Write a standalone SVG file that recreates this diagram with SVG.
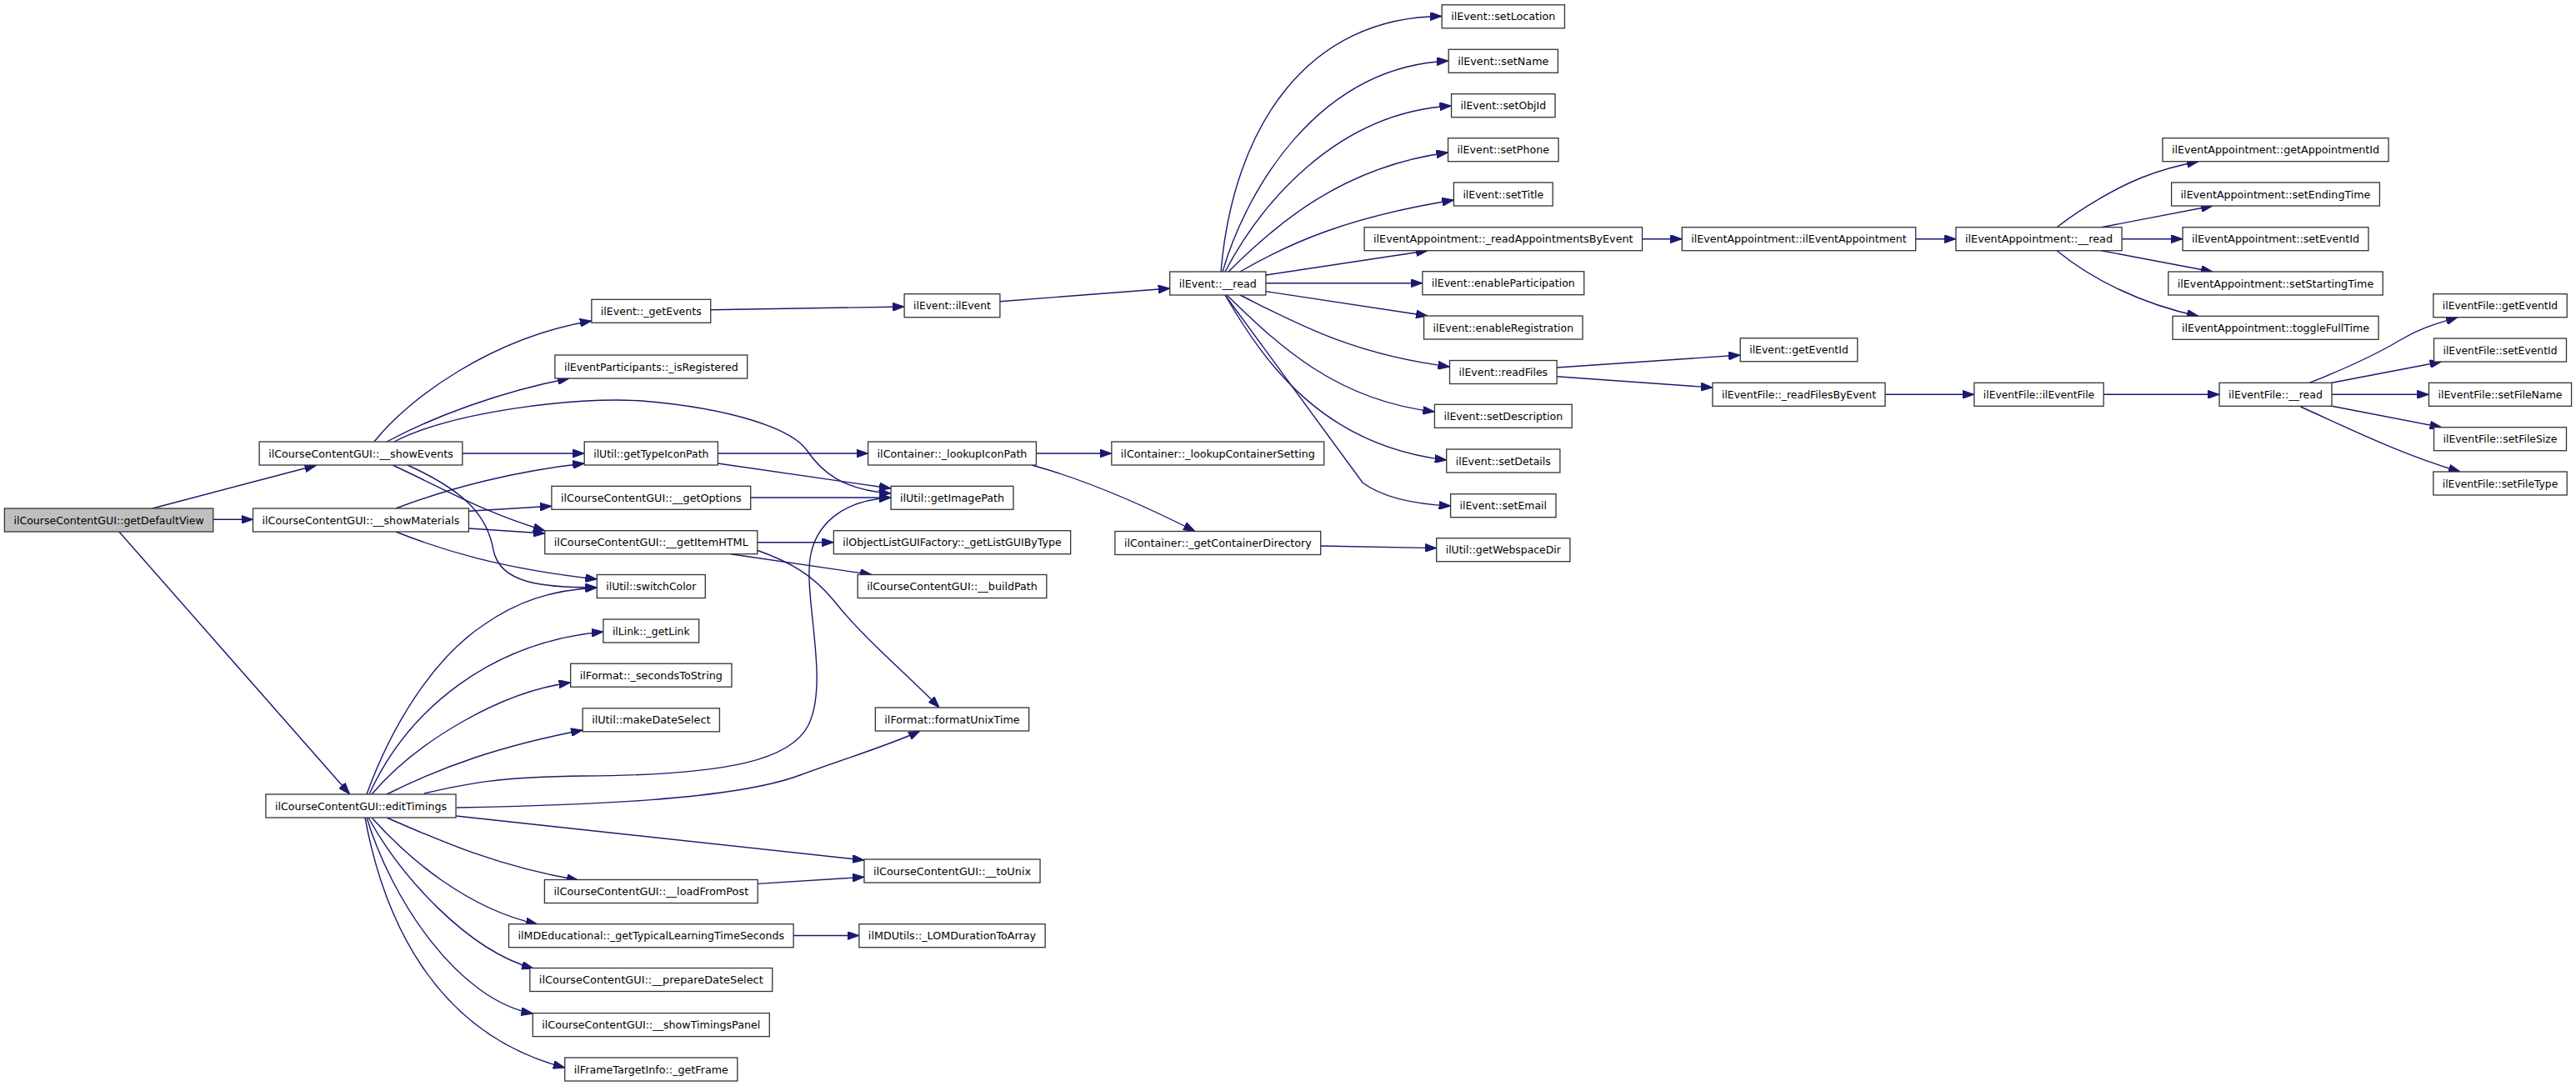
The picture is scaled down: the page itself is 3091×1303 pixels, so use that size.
<svg xmlns="http://www.w3.org/2000/svg" width="3091" height="1303" viewBox="0 0 3091 1303">
<defs>
<style>
.n rect{fill:#fff;stroke:#333;stroke-width:1.3}
.n text{font-family:"DejaVu Sans","Liberation Sans",sans-serif;font-size:12.4px;text-anchor:middle;fill:#000}
.root rect{fill:#bfbfbf}
.e path{fill:none;stroke:#191970;stroke-width:1.4;marker-end:url(#ah)}
</style>
<marker id="ah" markerUnits="userSpaceOnUse" markerWidth="14" markerHeight="10" refX="14" refY="5" orient="auto">
<path d="M0,0 L14,5 L0,10 z" fill="#191970" stroke="#191970" stroke-width="1"/>
</marker>
</defs>
<rect x="0" y="0" width="3091" height="1303" fill="#fff"/>
<g id="connectors" class="e">
<path d="M183,610 L379.5,558.3"/>
<path d="M255.8,623.3 L303.6,623.3"/>
<path d="M142.9,638 L419.6,952.8"/>
<path d="M449,530 C490,478 590,405 709.8,385"/>
<path d="M464,530 C520,500 600,470 683,454"/>
<path d="M473,530 C540,495 690,475 770,481 C880,490 950,515 968,540 C985,565 1010,588 1069,592"/>
<path d="M555,544 L701.2,544"/>
<path d="M471,558 C530,585 580,615 653.8,636.7"/>
<path d="M489,558 C560,590 585,620 592,660 C600,700 650,705 716.3,705"/>
<path d="M475,610 C540,585 620,565 701.2,556"/>
<path d="M562.5,613.3 L661.9,607.3"/>
<path d="M562.5,634 L653.8,640"/>
<path d="M475,638 C530,660 600,682 716.3,695"/>
<path d="M440,953 C470,870 520,790 580,750 C620,722 660,708 716.3,705"/>
<path d="M443,953 C490,850 590,770 723.9,758"/>
<path d="M446,953 C500,890 600,830 684.6,819"/>
<path d="M464,953 C530,920 600,895 699,876"/>
<path d="M509,952 C560,940 600,932 700,931 C880,930 950,910 970,870 C995,820 965,720 972,670 C978,630 1010,600 1069,597"/>
<path d="M548,969 C700,966 880,960 960,930 C1020,908 1070,893 1104,877"/>
<path d="M547.3,979 L1036.9,1032"/>
<path d="M464,981 C530,1010 600,1040 694,1056"/>
<path d="M446,981 C490,1030 560,1090 645,1109"/>
<path d="M442,981 C480,1050 560,1140 640,1162"/>
<path d="M440,981 C470,1080 550,1200 639.3,1216"/>
<path d="M438,981 C460,1100 520,1240 677.7,1281"/>
<path d="M909,1060.4 L1036.9,1052.3"/>
<path d="M951.6,1122.5 L1030.8,1122.5"/>
<path d="M908.8,650.7 L1000.3,650.7"/>
<path d="M876.6,664.7 L1046,689.5"/>
<path d="M908,660 C950,675 975,690 1000,720 C1040,770 1090,810 1127,849"/>
<path d="M861.4,544 L1041.6,544"/>
<path d="M861.4,556 L1069,586"/>
<path d="M900.7,597 L1069,597"/>
<path d="M852.7,371.7 L1085.1,368"/>
<path d="M1199.9,361.7 L1403.7,346"/>
<path d="M1243.4,544 L1333.8,544"/>
<path d="M1238,558 C1300,575 1360,600 1434,637.5"/>
<path d="M1584.7,655 L1723.7,657.6"/>
<path d="M1465,326 C1480,150 1570,20 1730.1,19.5"/>
<path d="M1467,326 C1495,230 1580,80 1738.2,73"/>
<path d="M1470,326 C1510,250 1600,135 1741.5,127"/>
<path d="M1474,326 C1530,270 1610,200 1737.5,183"/>
<path d="M1488,326 C1550,290 1620,260 1744.4,240"/>
<path d="M1518.9,330 L1713,300.7"/>
<path d="M1518.9,339.7 L1706.8,339.7"/>
<path d="M1518.9,349.6 L1713,379"/>
<path d="M1488,354 C1550,385 1620,425 1739.5,440"/>
<path d="M1472,354 C1530,410 1600,480 1721.4,494"/>
<path d="M1470,354 C1520,440 1590,535 1735.7,552"/>
<path d="M1470,354 L1635,579 C1660,598 1700,605 1740.6,607"/>
<path d="M1970.5,286.7 L2018.3,286.7"/>
<path d="M2298.7,286.7 L2346.9,286.7"/>
<path d="M2468,272.7 C2500,248 2540,225 2570,213 C2595,203 2615,198 2638,193.7"/>
<path d="M2521.4,272.7 L2655,247"/>
<path d="M2546,286.7 L2619,286.7"/>
<path d="M2521.4,300.7 L2655,326"/>
<path d="M2468,300.7 C2510,335 2570,365 2638,379.3"/>
<path d="M1868.1,441 L2088.2,426"/>
<path d="M1868.1,451.8 L2054.9,465"/>
<path d="M2262,473.3 L2368.8,473.3"/>
<path d="M2524.1,473.3 L2663,473.3"/>
<path d="M2771,459.3 C2820,440 2860,420 2880,408 C2905,393 2925,388 2949,380.7"/>
<path d="M2798,459.3 L2929.6,434"/>
<path d="M2798,473.3 L2914.4,473.3"/>
<path d="M2798,487.3 L2929.6,512.7"/>
<path d="M2760.5,488 C2810,510 2880,545 2952,566"/>
</g>
<g id="n_getDefaultView" class="n root"><rect x="5.4" y="610" width="250.4" height="28"/><text x="130.6" y="628.5" textLength="228.4" lengthAdjust="spacingAndGlyphs">ilCourseContentGUI::getDefaultView</text></g>
<g id="n_showEvents" class="n"><rect x="311.15" y="530" width="243.7" height="28"/><text x="433" y="548.5" textLength="221.7" lengthAdjust="spacingAndGlyphs">ilCourseContentGUI::__showEvents</text></g>
<g id="n_showMaterials" class="n"><rect x="303.55" y="610" width="258.9" height="28"/><text x="433" y="628.5" textLength="236.9" lengthAdjust="spacingAndGlyphs">ilCourseContentGUI::__showMaterials</text></g>
<g id="n_editTimings" class="n"><rect x="318.95" y="953" width="228.1" height="28"/><text x="433" y="971.5" textLength="206.1" lengthAdjust="spacingAndGlyphs">ilCourseContentGUI::editTimings</text></g>
<g id="n_getEvents" class="n"><rect x="709.85" y="359.3" width="142.9" height="28"/><text x="781.3" y="377.8" textLength="120.9" lengthAdjust="spacingAndGlyphs">ilEvent::_getEvents</text></g>
<g id="n_isRegistered" class="n"><rect x="665.9" y="426" width="230.8" height="28"/><text x="781.3" y="444.5" textLength="208.8" lengthAdjust="spacingAndGlyphs">ilEventParticipants::_isRegistered</text></g>
<g id="n_getTypeIconPath" class="n"><rect x="701.2" y="530" width="160.2" height="28"/><text x="781.3" y="548.5" textLength="138.2" lengthAdjust="spacingAndGlyphs">ilUtil::getTypeIconPath</text></g>
<g id="n_getOptions" class="n"><rect x="661.9" y="583.3" width="238.8" height="28"/><text x="781.3" y="601.8" textLength="216.8" lengthAdjust="spacingAndGlyphs">ilCourseContentGUI::__getOptions</text></g>
<g id="n_getItemHTML" class="n"><rect x="653.8" y="636.7" width="255" height="28"/><text x="781.3" y="655.2" textLength="233" lengthAdjust="spacingAndGlyphs">ilCourseContentGUI::__getItemHTML</text></g>
<g id="n_switchColor" class="n"><rect x="716.3" y="689.5" width="130" height="28"/><text x="781.3" y="708" textLength="108" lengthAdjust="spacingAndGlyphs">ilUtil::switchColor</text></g>
<g id="n_getLink" class="n"><rect x="723.9" y="743" width="114.8" height="28"/><text x="781.3" y="761.5" textLength="92.8" lengthAdjust="spacingAndGlyphs">ilLink::_getLink</text></g>
<g id="n_secondsToString" class="n"><rect x="684.65" y="796.2" width="193.3" height="28"/><text x="781.3" y="814.7" textLength="171.3" lengthAdjust="spacingAndGlyphs">ilFormat::_secondsToString</text></g>
<g id="n_makeDateSelect" class="n"><rect x="699.15" y="849.8" width="164.3" height="28"/><text x="781.3" y="868.3" textLength="142.3" lengthAdjust="spacingAndGlyphs">ilUtil::makeDateSelect</text></g>
<g id="n_loadFromPost" class="n"><rect x="653.4" y="1055.5" width="255.8" height="28"/><text x="781.3" y="1074" textLength="233.8" lengthAdjust="spacingAndGlyphs">ilCourseContentGUI::__loadFromPost</text></g>
<g id="n_getTypicalLearningTimeSeconds" class="n"><rect x="610.5" y="1108.7" width="341.6" height="28"/><text x="781.3" y="1127.2" textLength="319.6" lengthAdjust="spacingAndGlyphs">ilMDEducational::_getTypicalLearningTimeSeconds</text></g>
<g id="n_prepareDateSelect" class="n"><rect x="635.85" y="1161.5" width="290.9" height="28"/><text x="781.3" y="1180" textLength="268.9" lengthAdjust="spacingAndGlyphs">ilCourseContentGUI::__prepareDateSelect</text></g>
<g id="n_showTimingsPanel" class="n"><rect x="639.3" y="1215.6" width="284" height="28"/><text x="781.3" y="1234.1" textLength="262" lengthAdjust="spacingAndGlyphs">ilCourseContentGUI::__showTimingsPanel</text></g>
<g id="n_getFrame" class="n"><rect x="677.75" y="1269" width="207.1" height="28"/><text x="781.3" y="1287.5" textLength="185.1" lengthAdjust="spacingAndGlyphs">ilFrameTargetInfo::_getFrame</text></g>
<g id="n_ilEvent" class="n"><rect x="1085.1" y="352.7" width="114.8" height="28"/><text x="1142.5" y="371.2" textLength="92.8" lengthAdjust="spacingAndGlyphs">ilEvent::ilEvent</text></g>
<g id="n_lookupIconPath" class="n"><rect x="1041.6" y="530" width="201.8" height="28"/><text x="1142.5" y="548.5" textLength="179.8" lengthAdjust="spacingAndGlyphs">ilContainer::_lookupIconPath</text></g>
<g id="n_getImagePath" class="n"><rect x="1069.05" y="583.3" width="146.9" height="28"/><text x="1142.5" y="601.8" textLength="124.9" lengthAdjust="spacingAndGlyphs">ilUtil::getImagePath</text></g>
<g id="n_getListGUIByType" class="n"><rect x="1000.35" y="636.7" width="284.3" height="28"/><text x="1142.5" y="655.2" textLength="262.3" lengthAdjust="spacingAndGlyphs">ilObjectListGUIFactory::_getListGUIByType</text></g>
<g id="n_buildPath" class="n"><rect x="1029.15" y="689.5" width="226.7" height="28"/><text x="1142.5" y="708" textLength="204.7" lengthAdjust="spacingAndGlyphs">ilCourseContentGUI::__buildPath</text></g>
<g id="n_formatUnixTime" class="n"><rect x="1050.35" y="849" width="184.3" height="28"/><text x="1142.5" y="867.5" textLength="162.3" lengthAdjust="spacingAndGlyphs">ilFormat::formatUnixTime</text></g>
<g id="n_toUnix" class="n"><rect x="1036.95" y="1031" width="211.1" height="28"/><text x="1142.5" y="1049.5" textLength="189.1" lengthAdjust="spacingAndGlyphs">ilCourseContentGUI::__toUnix</text></g>
<g id="n_LOMDurationToArray" class="n"><rect x="1030.85" y="1108.7" width="223.3" height="28"/><text x="1142.5" y="1127.2" textLength="201.3" lengthAdjust="spacingAndGlyphs">ilMDUtils::_LOMDurationToArray</text></g>
<g id="n_event_read" class="n"><rect x="1403.7" y="326" width="115.2" height="28"/><text x="1461.3" y="344.5" textLength="93.2" lengthAdjust="spacingAndGlyphs">ilEvent::__read</text></g>
<g id="n_lookupContainerSetting" class="n"><rect x="1333.85" y="530" width="254.9" height="28"/><text x="1461.3" y="548.5" textLength="232.9" lengthAdjust="spacingAndGlyphs">ilContainer::_lookupContainerSetting</text></g>
<g id="n_getContainerDirectory" class="n"><rect x="1337.9" y="637.5" width="246.8" height="28"/><text x="1461.3" y="656" textLength="224.8" lengthAdjust="spacingAndGlyphs">ilContainer::_getContainerDirectory</text></g>
<g id="n_setLocation" class="n"><rect x="1730.15" y="5.8" width="147.3" height="28"/><text x="1803.8" y="24.3" textLength="125.3" lengthAdjust="spacingAndGlyphs">ilEvent::setLocation</text></g>
<g id="n_setName" class="n"><rect x="1738.2" y="59.3" width="131.2" height="28"/><text x="1803.8" y="77.8" textLength="109.2" lengthAdjust="spacingAndGlyphs">ilEvent::setName</text></g>
<g id="n_setObjId" class="n"><rect x="1741.55" y="112.7" width="124.5" height="28"/><text x="1803.8" y="131.2" textLength="102.5" lengthAdjust="spacingAndGlyphs">ilEvent::setObjId</text></g>
<g id="n_setPhone" class="n"><rect x="1737.55" y="165.7" width="132.5" height="28"/><text x="1803.8" y="184.2" textLength="110.5" lengthAdjust="spacingAndGlyphs">ilEvent::setPhone</text></g>
<g id="n_setTitle" class="n"><rect x="1744.4" y="219" width="118.8" height="28"/><text x="1803.8" y="237.5" textLength="96.8" lengthAdjust="spacingAndGlyphs">ilEvent::setTitle</text></g>
<g id="n_readAppointmentsByEvent" class="n"><rect x="1637.05" y="272.7" width="333.5" height="28"/><text x="1803.8" y="291.2" textLength="311.5" lengthAdjust="spacingAndGlyphs">ilEventAppointment::_readAppointmentsByEvent</text></g>
<g id="n_enableParticipation" class="n"><rect x="1706.85" y="325.7" width="193.9" height="28"/><text x="1803.8" y="344.2" textLength="171.9" lengthAdjust="spacingAndGlyphs">ilEvent::enableParticipation</text></g>
<g id="n_enableRegistration" class="n"><rect x="1708.55" y="379" width="190.5" height="28"/><text x="1803.8" y="397.5" textLength="168.5" lengthAdjust="spacingAndGlyphs">ilEvent::enableRegistration</text></g>
<g id="n_readFiles" class="n"><rect x="1739.5" y="432.5" width="128.6" height="28"/><text x="1803.8" y="451" textLength="106.6" lengthAdjust="spacingAndGlyphs">ilEvent::readFiles</text></g>
<g id="n_setDescription" class="n"><rect x="1721.4" y="485.3" width="164.8" height="28"/><text x="1803.8" y="503.8" textLength="142.8" lengthAdjust="spacingAndGlyphs">ilEvent::setDescription</text></g>
<g id="n_setDetails" class="n"><rect x="1735.7" y="539" width="136.2" height="28"/><text x="1803.8" y="557.5" textLength="114.2" lengthAdjust="spacingAndGlyphs">ilEvent::setDetails</text></g>
<g id="n_setEmail" class="n"><rect x="1740.6" y="592.7" width="126.4" height="28"/><text x="1803.8" y="611.2" textLength="104.4" lengthAdjust="spacingAndGlyphs">ilEvent::setEmail</text></g>
<g id="n_getWebspaceDir" class="n"><rect x="1723.7" y="645.7" width="160.2" height="28"/><text x="1803.8" y="664.2" textLength="138.2" lengthAdjust="spacingAndGlyphs">ilUtil::getWebspaceDir</text></g>
<g id="n_ilEventAppointment" class="n"><rect x="2018.3" y="272.7" width="280.4" height="28"/><text x="2158.5" y="291.2" textLength="258.4" lengthAdjust="spacingAndGlyphs">ilEventAppointment::ilEventAppointment</text></g>
<g id="n_event_getEventId" class="n"><rect x="2088.2" y="405.7" width="140.6" height="28"/><text x="2158.5" y="424.2" textLength="118.6" lengthAdjust="spacingAndGlyphs">ilEvent::getEventId</text></g>
<g id="n_readFilesByEvent" class="n"><rect x="2054.95" y="459.3" width="207.1" height="28"/><text x="2158.5" y="477.8" textLength="185.1" lengthAdjust="spacingAndGlyphs">ilEventFile::_readFilesByEvent</text></g>
<g id="n_appt_read" class="n"><rect x="2346.95" y="272.7" width="199.1" height="28"/><text x="2446.5" y="291.2" textLength="177.1" lengthAdjust="spacingAndGlyphs">ilEventAppointment::__read</text></g>
<g id="n_ilEventFile" class="n"><rect x="2368.85" y="459.3" width="155.3" height="28"/><text x="2446.5" y="477.8" textLength="133.3" lengthAdjust="spacingAndGlyphs">ilEventFile::ilEventFile</text></g>
<g id="n_getAppointmentId" class="n"><rect x="2594.95" y="165.7" width="271.1" height="28"/><text x="2730.5" y="184.2" textLength="249.1" lengthAdjust="spacingAndGlyphs">ilEventAppointment::getAppointmentId</text></g>
<g id="n_setEndingTime" class="n"><rect x="2605.6" y="219" width="249.8" height="28"/><text x="2730.5" y="237.5" textLength="227.8" lengthAdjust="spacingAndGlyphs">ilEventAppointment::setEndingTime</text></g>
<g id="n_appt_setEventId" class="n"><rect x="2619.05" y="272.7" width="222.9" height="28"/><text x="2730.5" y="291.2" textLength="200.9" lengthAdjust="spacingAndGlyphs">ilEventAppointment::setEventId</text></g>
<g id="n_setStartingTime" class="n"><rect x="2601.8" y="326" width="257.4" height="28"/><text x="2730.5" y="344.5" textLength="235.4" lengthAdjust="spacingAndGlyphs">ilEventAppointment::setStartingTime</text></g>
<g id="n_toggleFullTime" class="n"><rect x="2607" y="379.3" width="247" height="28"/><text x="2730.5" y="397.8" textLength="225" lengthAdjust="spacingAndGlyphs">ilEventAppointment::toggleFullTime</text></g>
<g id="n_file_read" class="n"><rect x="2663.05" y="459.3" width="134.9" height="28"/><text x="2730.5" y="477.8" textLength="112.9" lengthAdjust="spacingAndGlyphs">ilEventFile::__read</text></g>
<g id="n_file_getEventId" class="n"><rect x="2919.8" y="352.7" width="160.4" height="28"/><text x="3000" y="371.2" textLength="138.4" lengthAdjust="spacingAndGlyphs">ilEventFile::getEventId</text></g>
<g id="n_file_setEventId" class="n"><rect x="2920.5" y="406" width="159" height="28"/><text x="3000" y="424.5" textLength="137" lengthAdjust="spacingAndGlyphs">ilEventFile::setEventId</text></g>
<g id="n_setFileName" class="n"><rect x="2914.45" y="459.3" width="171.1" height="28"/><text x="3000" y="477.8" textLength="149.1" lengthAdjust="spacingAndGlyphs">ilEventFile::setFileName</text></g>
<g id="n_setFileSize" class="n"><rect x="2920.5" y="512.7" width="159" height="28"/><text x="3000" y="531.2" textLength="137" lengthAdjust="spacingAndGlyphs">ilEventFile::setFileSize</text></g>
<g id="n_setFileType" class="n"><rect x="2919.8" y="566" width="160.4" height="28"/><text x="3000" y="584.5" textLength="138.4" lengthAdjust="spacingAndGlyphs">ilEventFile::setFileType</text></g>
</svg>
